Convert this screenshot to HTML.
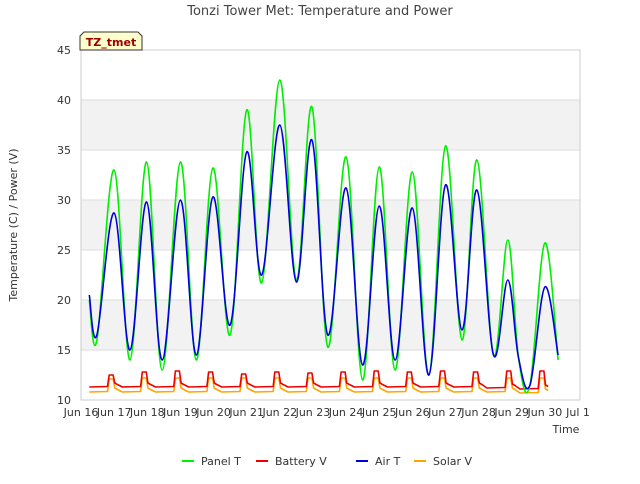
<!DOCTYPE html>
<html><head><meta charset="utf-8"><style>
body{margin:0;background:#fff;font-family:"DejaVu Sans","Liberation Sans",sans-serif}
</style></head><body>
<svg id="c" width="640" height="480" xmlns="http://www.w3.org/2000/svg" font-family="DejaVu Sans, Liberation Sans, sans-serif"></svg>
<script>
const dayLabels=["Jun 16","Jun 17","Jun 18","Jun 19","Jun 20","Jun 21","Jun 22","Jun 23","Jun 24","Jun 25","Jun 26","Jun 27","Jun 28","Jun 29","Jun 30","Jul 1"];
const yTicks=[10,15,20,25,30,35,40,45];
const tTimes=[0.25,0.48,1.0,1.48,1.98,2.45,3.0,3.48,3.98,4.5,5.0,5.45,6.0,6.5,6.97,7.45,8.0,8.5,9.0,9.48,10.0,10.5,11.0,11.5,11.95,12.45,12.88,13.2,13.55,14.0,14.4];
const panelT=[20,16,33,14,33.8,13,33.8,14,33.2,16.5,39,21.7,42,22,39.3,15.3,34.3,12,33.3,13,32.8,12.5,35.4,16,34,14.5,26,14.3,11.5,25.7,14];
const airT=[20.5,16.5,28.7,15,29.8,14,30,14.5,30.3,17.5,34.8,22.5,37.5,21.8,36,16.5,31.2,13.5,29.4,14,29.2,12.5,31.5,17,31,14.5,22,14.3,11.5,21.3,14.5];
const battBase=[11.3,11.3,11.3,11.3,11.3,11.3,11.3,11.3,11.3,11.3,11.3,11.3,11.2,11.1];
const battPeak=[12.5,12.8,12.9,12.8,12.6,12.8,12.7,12.8,12.9,12.8,12.9,12.8,12.9,12.9];
const solarBase=[10.8,10.8,10.8,10.8,10.8,10.8,10.8,10.8,10.8,10.8,10.8,10.8,10.8,10.7];
const solarPeak=[12.1,12.2,12.2,12.2,12.2,12.2,12.2,12.2,12.2,12.2,12.2,12.2,12.2,12.2];
const L=81,R=580,T=50,B=400;
const xs=t=>L+t*(578-81)/15;
const ys=v=>B-(v-10)*(B-T)/35;
const svg=document.getElementById('c');
const NS="http://www.w3.org/2000/svg";
function mk(tag,at,name,parent){const e=document.createElementNS(NS,tag);for(const k in at)e.setAttribute(k,at[k]);


(parent||svg).appendChild(e);return e;}
mk('rect',{x:L,y:T,width:R-L,height:B-T,fill:'#fff'},'plot-area');
for(let i=0;i<yTicks.length-1;i++){if(yTicks[i]%10===5){mk('rect',{x:L,y:ys(yTicks[i+1]),width:R-L,height:ys(yTicks[i])-ys(yTicks[i+1]),fill:'#f2f2f2'},'band');}}
yTicks.forEach(v=>{mk('line',{x1:L,x2:R,y1:ys(v),y2:ys(v),stroke:'#ddd','stroke-width':1},'grid-line');
const t=mk('text',{x:L-10,y:ys(v)+4,'text-anchor':'end','font-size':11,fill:'#333'},'y-tick-label');t.textContent=v;});
mk('rect',{x:L,y:T,width:R-L,height:B-T,fill:'none',stroke:'#ccc'},'plot-border');
dayLabels.forEach((d,i)=>{const t=mk('text',{x:xs(i),y:416,'text-anchor':'middle','font-size':11,fill:'#333'},'x-tick-label');t.textContent=d;});
function line(xsArr,vals,color,name){let d='';xsArr.forEach((t,i)=>{d+=(i?'L':'M')+xs(t).toFixed(1)+','+ys(vals[i]).toFixed(1);});
mk('path',{d:d,fill:'none',stroke:color,'stroke-width':1.6,'stroke-linejoin':'round'},name);}
function smooth(xsArr,vals,color,name){const P=xsArr.map((t,i)=>[xs(t),ys(vals[i])]);let d='M'+P[0][0].toFixed(1)+','+P[0][1].toFixed(1);
for(let i=0;i<P.length-1;i++){const p0=P[i-1]||P[i],p1=P[i],p2=P[i+1],p3=P[i+2]||P[i+1];const k=0.35;
const c1=[p1[0]+(p2[0]-p0[0])*k/2,p1[1]+(p2[1]-p0[1])*k/2],c2=[p2[0]-(p3[0]-p1[0])*k/2,p2[1]-(p3[1]-p1[1])*k/2];
d+='C'+c1.map(v=>v.toFixed(1)).join(',')+' '+c2.map(v=>v.toFixed(1)).join(',')+' '+p2[0].toFixed(1)+','+p2[1].toFixed(1);}
mk('path',{d:d,fill:'none',stroke:color,'stroke-width':1.6,'stroke-linejoin':'round'},name);}
function daily(base,peak){const tt=[],vv=[];for(let d=0;d<base.length;d++){const s=d+0.25;
[[s,base[d]],[s+0.55,base[d]+0.05],[s+0.6,peak[d]],[s+0.72,peak[d]],[s+0.77,base[d]+0.4],[s+0.85,base[d]+0.25]].forEach(p=>{if(p[0]<=14.4){tt.push(p[0]);vv.push(p[1]);}});}
return [tt,vv];}
const s=daily(solarBase,solarPeak);line(s[0],s[1],'#ffa500','solar-v-line');
const b=daily(battBase,battPeak);line(b[0],b[1],'#ee0000','battery-v-line');
smooth(tTimes,panelT,'#00ee00','panel-t-line');
smooth(tTimes,airT,'#0000dd','air-t-line');
let t=mk('text',{x:320,y:15,'text-anchor':'middle','font-size':13,fill:'#444'},'chart-title');t.textContent='Tonzi Tower Met: Temperature and Power';
t=mk('text',{x:566,y:433,'text-anchor':'middle','font-size':11,fill:'#333'},'x-axis-title');t.textContent='Time';
t=mk('text',{x:17,y:225,'text-anchor':'middle','font-size':11,fill:'#333',transform:'rotate(-90 17 225)'},'y-axis-title');t.textContent='Temperature (C) / Power (V)';
mk('path',{d:'M80,50 L80,36 L84,32 L138,32 L142,36 L142,50 Z',fill:'#ffffcc',stroke:'#333'},'site-label-box');
t=mk('text',{x:111,y:46,'text-anchor':'middle','font-size':11,'font-weight':'bold',fill:'#990000'},'site-label');t.textContent='TZ_tmet';
const leg=[['Panel T','#00ee00',182],['Battery V','#ee0000',256],['Air T','#0000dd',356],['Solar V','#ffa500',414]];
leg.forEach(l=>{const g=mk('g',{},'legend-entry');mk('line',{x1:l[2],x2:l[2]+12,y1:461,y2:461,stroke:l[1],'stroke-width':2},'legend-swatch',g);
const tx=mk('text',{x:l[2]+19,y:465,'font-size':11,fill:'#333'},'legend-label',g);tx.textContent=l[0];});
</script>
</body></html>
